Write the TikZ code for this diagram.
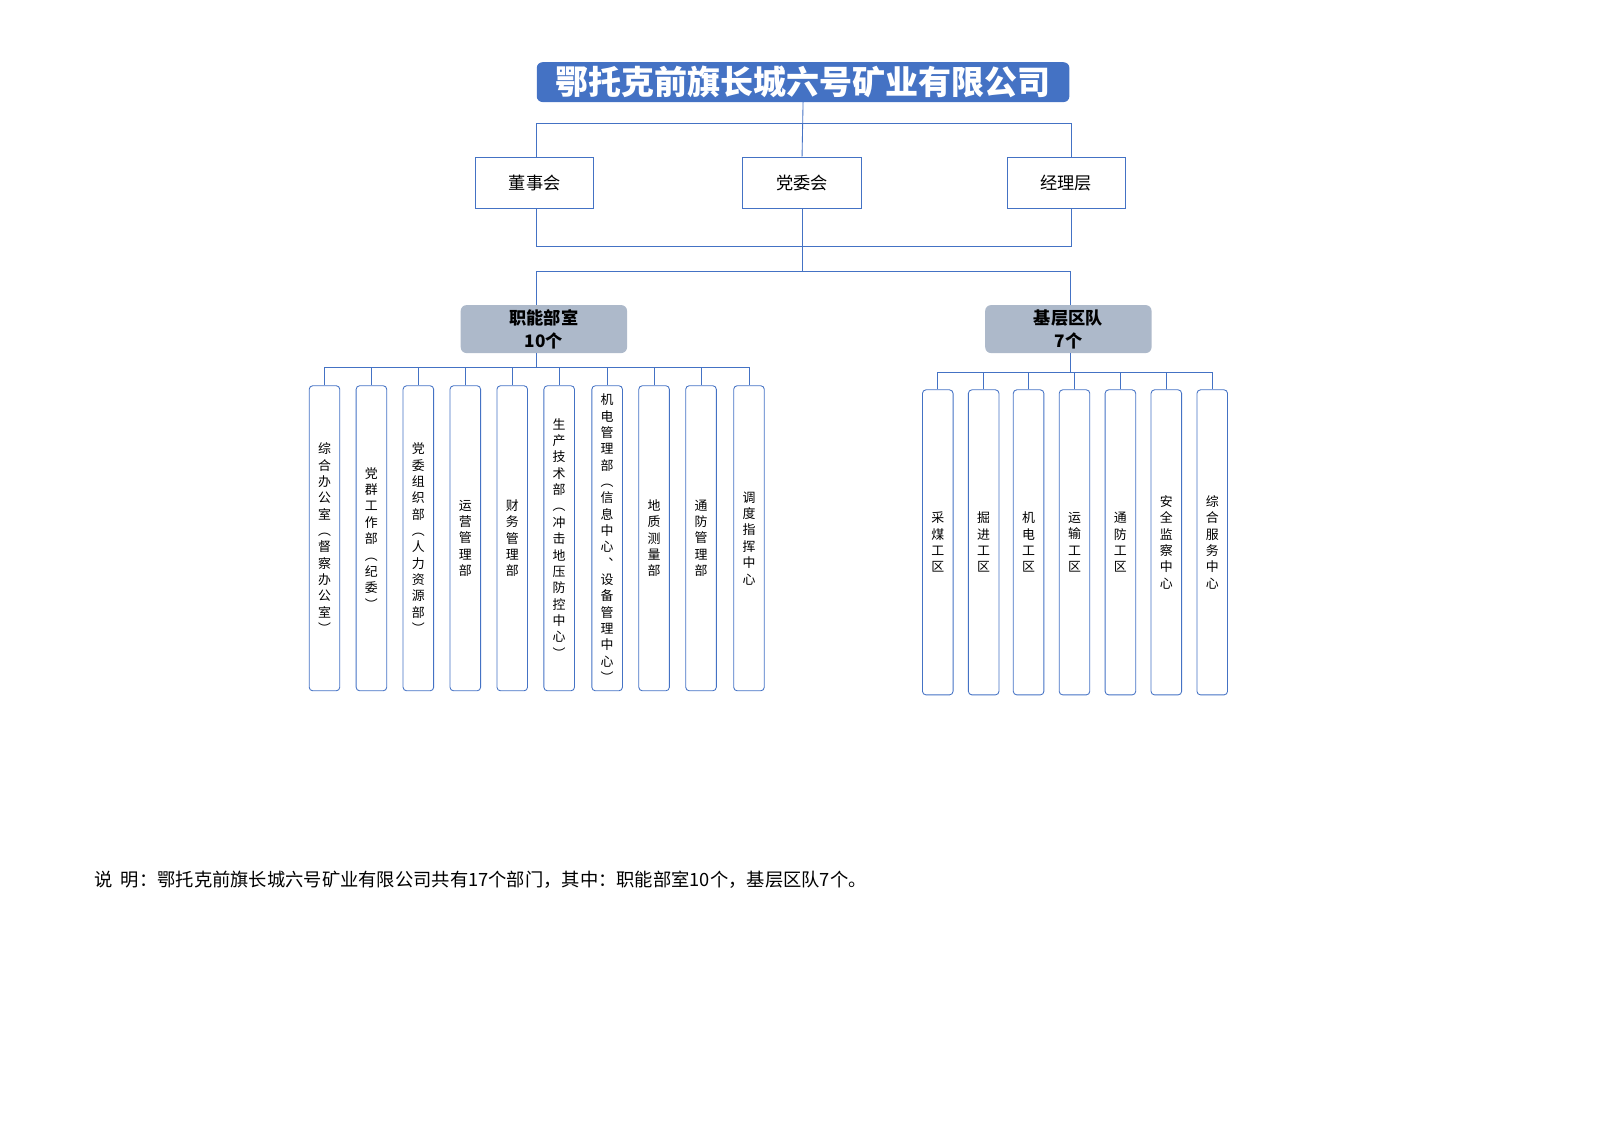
\documentclass[tikz,border=0pt]{standalone}
\usepackage{fontspec}
\setmainfont{Noto Sans CJK SC}
\usetikzlibrary{positioning, calc}
\definecolor{lineblue}{RGB}{68,114,196}
\definecolor{boxgray}{RGB}{173,185,202}

\begin{document}
\begin{tikzpicture}[x=0.05cm, y=-0.05cm,
  line/.style={lineblue, line width=1.2pt},
  topbox/.style={draw=lineblue, line width=1.2pt, minimum width=5.8cm, minimum height=2.5cm, inner sep=0pt, font=\fontsize{24}{28}\selectfont},
  groupbox/.style={fill=boxgray, rounded corners=8pt, minimum width=8.15cm, minimum height=2.35cm, inner sep=0pt, align=center, font=\bfseries\fontsize{24}{32}\selectfont},
  unitbox/.style={draw=lineblue, line width=1.2pt, rounded corners=5pt, minimum width=1.5cm, minimum height=14.95cm, inner sep=0pt, align=center, font=\fontsize{18}{22.8}\selectfont}]

\useasboundingbox (0,0) rectangle (1568,1108);

% 公司
\node[fill=lineblue, rounded corners=8pt, minimum width=26.1cm, minimum height=1.95cm, text=white, font=\bfseries\fontsize{46}{50}\selectfont] (gs) at (787,80.5) {鄂托克前旗长城六号矿业有限公司};

% 治理层
\node[topbox] (dsh) at (524,179) {董事会};
\node[topbox] (dwh) at (786,179) {党委会};
\node[topbox] (jlc) at (1045,179) {经理层};
\draw[line] (gs.south) -- (dwh.north);
\draw[line] (dsh.north) ++(2,0) -- ++(0,-33) -| ($(jlc.north)+(5,0)$);
\draw[line] (dsh.south) ++(2,0) -- ++(0,37) -| ($(jlc.south)+(5,0)$);

% 分组
\node[groupbox] (zn) at (533,322.5) {职能部室\\10个};
\node[groupbox] (jc) at (1047,322.5) {基层区队\\7个};
\draw[line] (dwh.south) -- ++(0,62) coordinate (mid);
\draw[line] (mid) -| ($(zn.north)+(-7,0)$);
\draw[line] (mid) -| ($(jc.north)+(2,0)$);
\draw[line] ($(zn.south)+(-7,0)$) -- ++(0,14) coordinate (znb);
\draw[line] ($(jc.south)+(2,0)$) -- ++(0,19) coordinate (jcb);

% 职能部室
\foreach \i/\x/\t in {1/318/{综\\合\\办\\公\\室\\︵\\督\\察\\办\\公\\室\\︶},
  2/364/{党\\群\\工\\作\\部\\︵\\纪\\委\\︶},
  3/410/{党\\委\\组\\织\\部\\︵\\人\\力\\资\\源\\部\\︶},
  4/456/{运\\营\\管\\理\\部},
  5/502/{财\\务\\管\\理\\部},
  6/548/{生\\产\\技\\术\\部\\︵\\冲\\击\\地\\压\\防\\控\\中\\心\\︶},
  7/595/{机\\电\\管\\理\\部\\︵\\信\\息\\中\\心\\︑\\设\\备\\管\\理\\中\\心\\︶},
  8/641/{地\\质\\测\\量\\部},
  9/687/{通\\防\\管\\理\\部},
  10/734/{调\\度\\指\\挥\\中\\心}}{
  \node[unitbox] (zn\i) at (\x,527.5) {\t};
  \draw[line] (zn\i.north) |- (znb);
}

% 基层区队
\foreach \i/\x/\t in {1/919/{采\\煤\\工\\区}, 2/964/{掘\\进\\工\\区},
  3/1008/{机\\电\\工\\区}, 4/1053/{运\\输\\工\\区}, 5/1098/{通\\防\\工\\区},
  6/1143/{安\\全\\监\\察\\中\\心}, 7/1188/{综\\合\\服\\务\\中\\心}}{
  \node[unitbox] (jc\i) at (\x,531.5) {\t};
  \draw[line] (jc\i.north) |- (jcb);
}

% 说明
\node[anchor=west, font=\fontsize{25.5}{30}\selectfont] (sm) at (90,862) {说\ \ 明：鄂托克前旗长城六号矿业有限公司共有17个部门，其中：职能部室10个，基层区队7个。};

\end{tikzpicture}
\end{document}
